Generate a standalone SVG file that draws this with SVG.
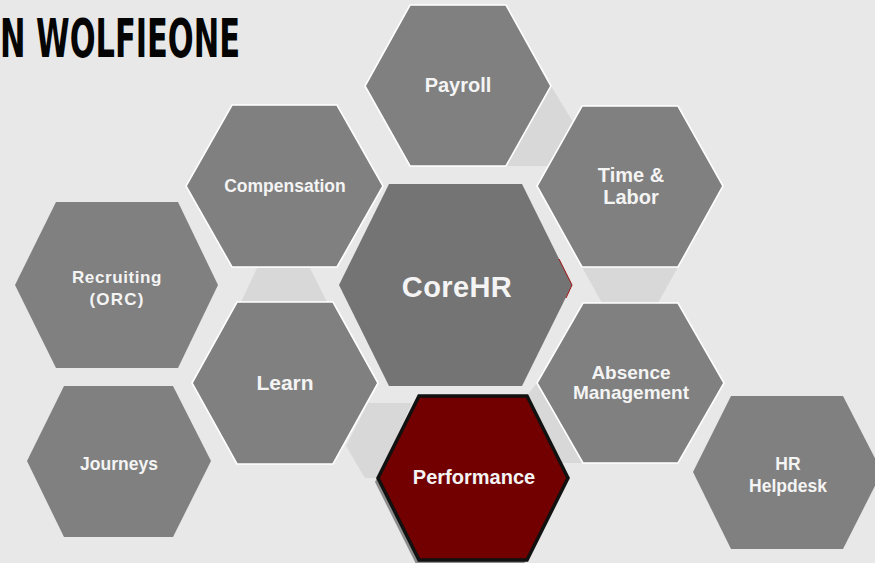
<svg xmlns="http://www.w3.org/2000/svg" width="875" height="563" viewBox="0 0 875 563">
  <style>
    .hex { fill: #808080; }
    .hexs { fill: #808080; stroke: #ffffff; stroke-width: 1.6; }
    .core { fill: #747474; }
    .perf { fill: #730000; stroke: #111111; stroke-width: 3.5; stroke-linejoin: miter; }
    .shadow { fill: #8c8c8c; }
    .conn { fill: #d8d8d8; }
    .lbl { font-family: "Liberation Sans", Arial, sans-serif; font-weight: bold; fill: #f4f4f4; text-anchor: middle; }
    .title { font-family: "Liberation Sans Narrow", "DejaVu Sans Condensed", "Liberation Sans", sans-serif; font-weight: bold; fill: #050505; }
  </style>
  <rect x="0" y="0" width="875" height="563" fill="#e8e8e8"/>

  <text class="title" x="0" y="57" font-size="53" textLength="240" lengthAdjust="spacingAndGlyphs">N WOLFIEONE</text>

  <g id="connectors">
    <polygon class="conn" points="551,86 573,122 548,166 506,166"/>
    <polygon class="conn" points="582,267 678,267 658,303 602,303"/>
    <polygon class="conn" points="257,268 310,268 327,302 241,302"/>
    <polygon class="conn" points="368,403 412,403 378,478 365,478 346,446"/>
    <polygon class="conn" points="533,388 537,383 582,463 560,463 526,397"/>
  </g>

  <g id="payroll">
    <polygon class="hexs" points="410,5 506,5 551,86 506,166 410,166 365,86"/>
    <text class="lbl" x="458" y="92" font-size="20">Payroll</text>
  </g>

  <g id="time-labor">
    <polygon class="hexs" points="582,106 678,106 723,186 678,267 582,267 537,186"/>
    <text class="lbl" x="631" y="182" font-size="20">Time &amp;</text>
    <text class="lbl" x="631" y="204" font-size="20">Labor</text>
  </g>

  <g id="compensation">
    <polygon class="hexs" points="232,105 337,105 383,186 337,267 232,267 186,186"/>
    <text class="lbl" x="285" y="192" font-size="17.5">Compensation</text>
  </g>

  <g id="corehr">
    <polygon class="core" points="389,184 522,184 572,285 522,386 389,386 339,285"/>
    <polyline points="559,259 572,285 566,298" fill="none" stroke="#a01010" stroke-width="1"/>
    <text class="lbl" x="457" y="297" font-size="29" letter-spacing="0.4">CoreHR</text>
  </g>

  <g id="recruiting">
    <polygon class="hex" points="56,202 178,202 218,285 178,368 56,368 15,285"/>
    <text class="lbl" x="117" y="283" font-size="17" letter-spacing="0.6">Recruiting</text>
    <text class="lbl" x="117" y="305" font-size="17" letter-spacing="1.2">(ORC)</text>
  </g>

  <g id="learn">
    <polygon class="hexs" points="237,302 333,302 378,383 333,464 237,464 192,383"/>
    <text class="lbl" x="285" y="390" font-size="21">Learn</text>
  </g>

  <g id="journeys">
    <polygon class="hex" points="64,386 173,386 211,461 173,537 64,537 27,461"/>
    <text class="lbl" x="119" y="470" font-size="17.5">Journeys</text>
  </g>

  <g id="absence-management">
    <polygon class="hexs" points="583,303 678,303 724,383 678,463 583,463 537,383"/>
    <text class="lbl" x="631" y="379" font-size="19">Absence</text>
    <text class="lbl" x="631" y="399" font-size="19">Management</text>
  </g>

  <g id="hr-helpdesk">
    <polygon class="hex" points="731,396 843,396 882,472 843,549 731,549 693,472"/>
    <text class="lbl" x="788" y="470" font-size="17.5">HR</text>
    <text class="lbl" x="788" y="492" font-size="17.5">Helpdesk</text>
  </g>

  <g id="performance">
    <polygon class="shadow" points="416,400 524,400 565,482 524,564 416,564 375,482"/>
    <polygon class="perf" points="419,396 527,396 568,478 527,560 419,560 378,478"/>
    <text class="lbl" x="474" y="484" font-size="20">Performance</text>
  </g>
</svg>
